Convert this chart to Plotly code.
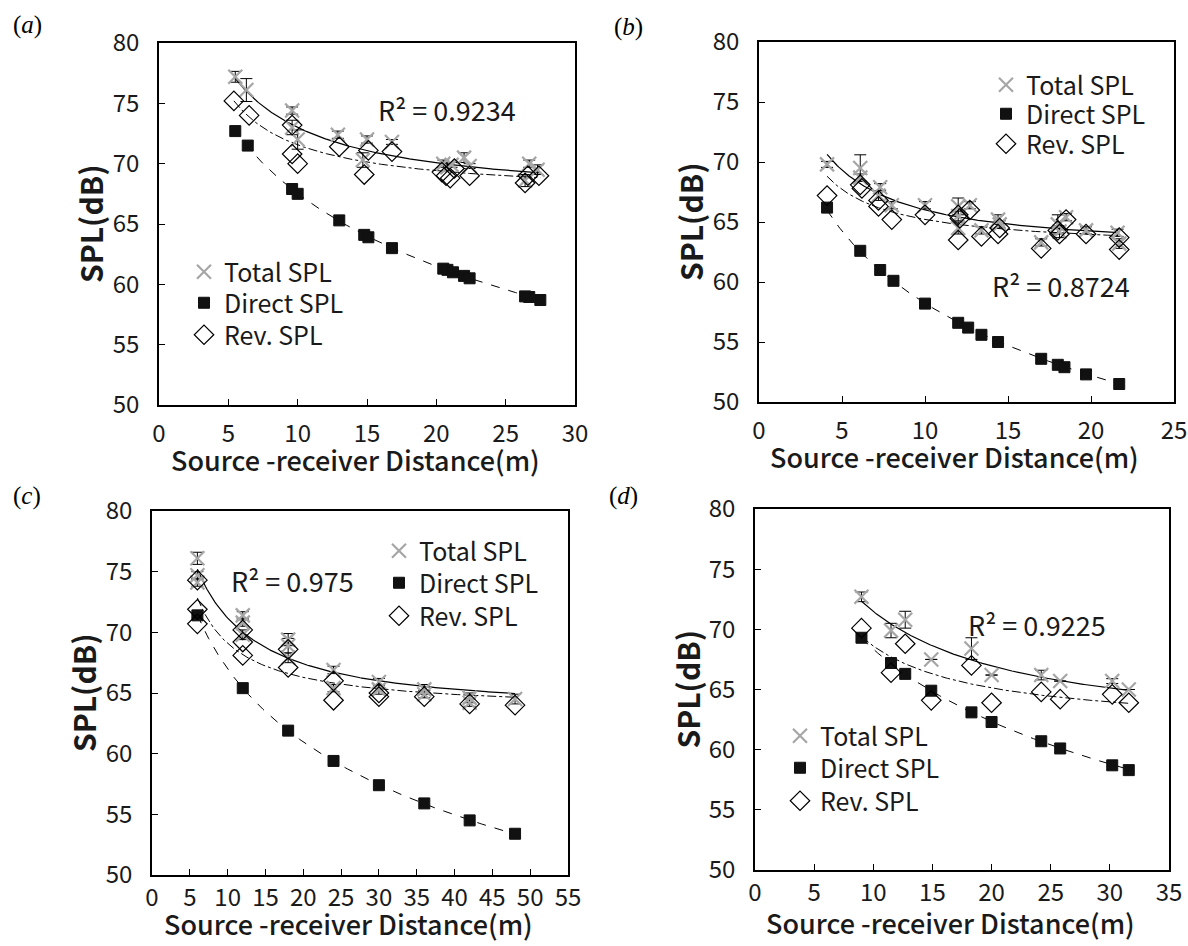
import numpy as np
import plotly.graph_objects as go

# ---------------- data ----------------
# panel (a)
a_tot_x = [5.5, 6.3, 9.6, 9.6, 10.0, 12.9, 14.7, 15.0, 16.8, 20.5, 20.8, 21.1, 22.0, 22.4, 26.4, 26.7, 27.3]
a_tot_y = [77.2, 76.1, 74.4, 73.0, 72.0, 72.4, 70.3, 72.0, 71.8, 70.0, 69.7, 69.9, 70.5, 69.8, 68.6, 70.0, 69.5]
a_tot_e = [0.45, 0.95, 0.3, 0.6, 0.8, 0.3, 0.6, 0.3, 0.2, 0.3, 0.3, 0.2, 0.4, 0.2, 0.5, 0.3, 0.4]
a_rev_x = [5.4, 6.5, 9.6, 9.6, 10.0, 13.0, 14.8, 15.1, 16.8, 20.4, 20.7, 21.0, 21.3, 22.4, 26.4, 26.6, 27.4]
a_rev_y = [75.2, 74.0, 73.2, 70.8, 70.0, 71.4, 69.1, 71.1, 71.0, 69.3, 69.0, 68.8, 69.6, 69.0, 68.4, 69.0, 69.0]
a_dir_x = [5.5, 6.4, 9.6, 10.0, 13.0, 14.8, 15.1, 16.8, 20.5, 20.8, 21.2, 22.0, 22.4, 26.4, 26.7, 27.5]
a_dir_y = [72.7, 71.5, 67.9, 67.5, 65.3, 64.1, 63.9, 63.0, 61.3, 61.2, 61.0, 60.7, 60.5, 59.0, 58.95, 58.7]

# panel (b)
b_tot_x = [4.1, 6.1, 6.1, 7.3, 7.2, 8.0, 10.0, 12.0, 12.0, 12.0, 12.7, 13.4, 14.4, 14.5, 17.0, 18.0, 18.1, 18.5, 19.7, 21.6, 21.7]
b_tot_y = [69.8, 69.5, 68.7, 67.9, 67.2, 66.4, 66.4, 66.3, 65.5, 64.5, 66.4, 64.3, 65.2, 64.8, 63.3, 64.8, 64.2, 65.4, 64.3, 64.1, 63.2]
b_tot_e = [0.25, 1.1, 0.3, 0.3, 0.4, 0.3, 0.3, 0.7, 0.4, 0.5, 0.3, 0.3, 0.4, 0.3, 0.3, 0.8, 0.5, 0.3, 0.3, 0.3, 0.4]
b_rev_x = [4.1, 6.1, 6.2, 7.2, 7.2, 8.0, 10.0, 12.0, 12.0, 12.1, 12.7, 13.4, 14.4, 14.5, 17.0, 18.0, 18.1, 18.5, 19.7, 21.7, 21.7]
b_rev_y = [67.2, 68.1, 67.8, 66.8, 66.3, 65.2, 65.6, 63.5, 65.6, 65.3, 66.0, 63.8, 64.0, 64.5, 62.8, 64.3, 64.0, 65.2, 64.0, 63.7, 62.7]
b_dir_x = [4.1, 6.1, 7.3, 8.1, 10.0, 12.0, 12.6, 13.4, 14.4, 17.0, 18.0, 18.4, 19.7, 21.7]
b_dir_y = [66.2, 62.6, 61.0, 60.1, 58.2, 56.6, 56.2, 55.6, 55.0, 53.6, 53.1, 52.9, 52.3, 51.5]

# panel (c)
c_tot_x = [6, 6, 6, 12, 12, 12, 18, 18, 18, 24, 24, 30, 30, 36, 36, 42, 42, 48]
c_tot_y = [76.1, 74.7, 74.1, 71.4, 70.8, 69.8, 69.4, 68.9, 67.9, 66.9, 65.4, 65.9, 65.3, 65.3, 64.9, 64.6, 64.2, 64.5]
c_tot_e = [0.5, 0.3, 0.3, 0.3, 0.3, 0.4, 0.5, 0.6, 0.4, 0.3, 0.3, 0.3, 0.4, 0.4, 0.3, 0.4, 0.3, 0.4]
c_rev_x = [6, 6, 6, 12, 12, 12, 18, 18, 24, 24, 30, 30, 36, 42, 48]
c_rev_y = [74.3, 71.9, 70.7, 70.2, 69.2, 68.1, 68.6, 67.1, 66.0, 64.4, 65.0, 64.7, 64.7, 64.1, 64.0]
c_dir_x = [6, 12, 18, 24, 30, 36, 42, 48]
c_dir_y = [71.4, 65.4, 61.9, 59.4, 57.4, 55.9, 54.5, 53.4]

# panel (d)
d_tot_x = [9.0, 11.5, 12.7, 14.9, 18.3, 20.0, 24.2, 25.8, 30.2, 31.6]
d_tot_y = [72.7, 69.9, 70.8, 67.5, 68.4, 66.2, 66.2, 65.7, 65.7, 65.0]
d_tot_e = [0.4, 0.6, 0.7, 0.0, 0.9, 0.0, 0.4, 0.0, 0.2, 0.0]
d_rev_x = [9.0, 11.5, 12.7, 14.9, 18.3, 20.0, 24.2, 25.8, 30.2, 31.6]
d_rev_y = [70.1, 66.4, 68.8, 64.1, 67.0, 63.9, 64.8, 64.2, 64.6, 63.9]
d_dir_x = [9.0, 11.5, 12.7, 14.9, 18.3, 20.0, 24.2, 25.8, 30.2, 31.6]
d_dir_y = [69.3, 67.2, 66.3, 64.9, 63.1, 62.3, 60.7, 60.1, 58.7, 58.3]

r2_labels = ["R² = 0.9234", "R² = 0.8724", "R² = 0.975", "R² = 0.9225"]
panel_tags = ["a", "b", "c", "d"]
x_max = [30, 25, 55, 35]
series_names = ["Total SPL", "Direct SPL", "Rev. SPL"]
x_title = "Source -receiver Distance(m)"
y_title = "SPL(dB)"

# ---------------- layout geometry (pixels) ----------------
W, H = 1188, 946
boxes = [  # left, right, top, bottom
    (159, 575, 43, 405),
    (759, 1174, 42, 402),
    (152, 568, 511, 875),
    (755, 1169, 509, 870),
]
legend_x = [208, 1010, 403, 804]
legend_y = [(272, 303, 335), (85, 114, 144), (551, 583, 616), (736, 768, 801)]
r2_pos = [(447, 110), (1061, 285), (292, 580), (1037, 624)]
tag_pos = [(27, 25), (628, 27), (27, 496), (623, 496)]
xtick_standoff = [6, 6, 0, 0]
xtitle_y = [459, 456, 923, 922]

FONT = "Noto Sans CJK JP, Noto Sans, sans-serif"
GREY = "#a6a6a6"
TXT = "#1a1a1a"

fig = go.Figure()

panels = [
    (a_tot_x, a_tot_y, a_tot_e, a_rev_x, a_rev_y, a_dir_x, a_dir_y),
    (b_tot_x, b_tot_y, b_tot_e, b_rev_x, b_rev_y, b_dir_x, b_dir_y),
    (c_tot_x, c_tot_y, c_tot_e, c_rev_x, c_rev_y, c_dir_x, c_dir_y),
    (d_tot_x, d_tot_y, d_tot_e, d_rev_x, d_rev_y, d_dir_x, d_dir_y),
]

legend_layouts = {}
for i, (tx, ty, te, rx, ry, dx, dy) in enumerate(panels):
    k = "" if i == 0 else str(i + 1)
    xa, ya = "x" + k, "y" + k
    lgs = ["legend" + ("" if 3 * i + j == 0 else str(3 * i + j + 1)) for j in range(3)]

    tx, ty, te = np.array(tx), np.array(ty), np.array(te)
    rx, ry = np.array(rx), np.array(ry)
    dx, dy = np.array(dx), np.array(dy)

    # fitted curves: direct = inverse-square law, rev = a + b/r, total = energy sum
    A = np.mean(dy + 20 * np.log10(dx))
    rmin = min(tx.min(), rx.min(), dx.min())
    rmax = max(tx.max(), rx.max(), dx.max())
    rr = np.linspace(rmin, rmax, 200)
    d_fit = A - 20 * np.log10(rr)
    M = np.vstack([np.ones_like(rx), 1.0 / rx]).T
    coef, *_ = np.linalg.lstsq(M, ry, rcond=None)
    r_fit = coef[0] + coef[1] / rr
    t_fit = 10 * np.log10(10 ** (d_fit / 10) + 10 ** (r_fit / 10))

    fig.add_trace(go.Scatter(x=rr, y=d_fit, mode="lines", xaxis=xa, yaxis=ya,
                             line=dict(color="black", width=1, dash="dash"),
                             showlegend=False, hoverinfo="skip"))
    fig.add_trace(go.Scatter(x=rr, y=r_fit, mode="lines", xaxis=xa, yaxis=ya,
                             line=dict(color="black", width=1, dash="dashdot"),
                             showlegend=False, hoverinfo="skip"))
    fig.add_trace(go.Scatter(x=rr, y=t_fit, mode="lines", xaxis=xa, yaxis=ya,
                             line=dict(color="black", width=1.2),
                             showlegend=False, hoverinfo="skip"))

    fig.add_trace(go.Scatter(x=tx, y=ty, mode="markers", xaxis=xa, yaxis=ya,
                             name=series_names[0], legend=lgs[0],
                             marker=dict(symbol="x-thin-open", size=14,
                                         line=dict(color=GREY, width=2.2), color=GREY),
                             error_y=dict(type="data", array=te, visible=True,
                                          color="black", thickness=1, width=6)))
    fig.add_trace(go.Scatter(x=dx, y=dy, mode="markers", xaxis=xa, yaxis=ya,
                             name=series_names[1], legend=lgs[1],
                             marker=dict(symbol="square", size=11, color="#111111",
                                         line=dict(color="#111111", width=1))))
    fig.add_trace(go.Scatter(x=rx, y=ry, mode="markers", xaxis=xa, yaxis=ya,
                             name=series_names[2], legend=lgs[2],
                             marker=dict(symbol="diamond-open", size=15,
                                         color="black", line=dict(color="black", width=1.2))))

    for j in range(3):
        legend_layouts[lgs[j]] = dict(
            x=(legend_x[i] - 24) / W, y=1 - legend_y[i][j] / H,
            xanchor="left", yanchor="middle", bgcolor="rgba(0,0,0,0)",
            font=dict(family=FONT, size=25, color=TXT), itemclick=False)

    L, R, T, B = boxes[i]
    axis_common = dict(showline=True, linecolor="black", linewidth=1.5, mirror=True,
                       ticks="inside", ticklen=6, tickcolor="black", tickwidth=1.2,
                       showgrid=False, zeroline=False, automargin=False,
                       tickfont=dict(family=FONT, size=24, color=TXT))
    fig.update_layout(**{
        ("xaxis" + k): dict(axis_common, domain=[L / W, R / W], anchor=ya,
                            range=[0, x_max[i]], dtick=5, tick0=0,
                            ticklabelstandoff=xtick_standoff[i]),
        ("yaxis" + k): dict(axis_common, domain=[1 - B / H, 1 - T / H], anchor=xa,
                            range=[50, 80], dtick=5, tick0=50, ticklabelstandoff=13),
    })

    # axis titles
    fig.add_annotation(x=((L + R) / 2 - 12) / W, y=1 - xtitle_y[i] / H, xref="paper", yref="paper",
                       text=x_title, showarrow=False, xanchor="center", yanchor="middle",
                       font=dict(family=FONT, size=27, color=TXT, weight=500))
    fig.add_annotation(x=(L - 69) / W, y=1 - ((T + B) / 2) / H, xref="paper", yref="paper",
                       text=y_title, showarrow=False, textangle=-90,
                       xanchor="center", yanchor="middle",
                       font=dict(family=FONT, size=30, color=TXT, weight="bold"))

    fig.add_annotation(x=r2_pos[i][0] / W, y=1 - r2_pos[i][1] / H, xref="paper", yref="paper",
                       text=r2_labels[i], showarrow=False, xanchor="center", yanchor="middle",
                       font=dict(family=FONT, size=27, color=TXT))
    fig.add_annotation(x=tag_pos[i][0] / W, y=1 - tag_pos[i][1] / H, xref="paper", yref="paper",
                       text="(<i>" + panel_tags[i] + "</i>)", showarrow=False,
                       xanchor="center", yanchor="middle",
                       font=dict(family="Liberation Serif, DejaVu Serif, serif", size=25,
                                 color="black"))

fig.update_layout(width=W, height=H, margin=dict(l=0, r=0, t=0, b=0, autoexpand=False),
                  paper_bgcolor="white", plot_bgcolor="white", showlegend=True,
                  **legend_layouts)

fig.write_html("out.html")
